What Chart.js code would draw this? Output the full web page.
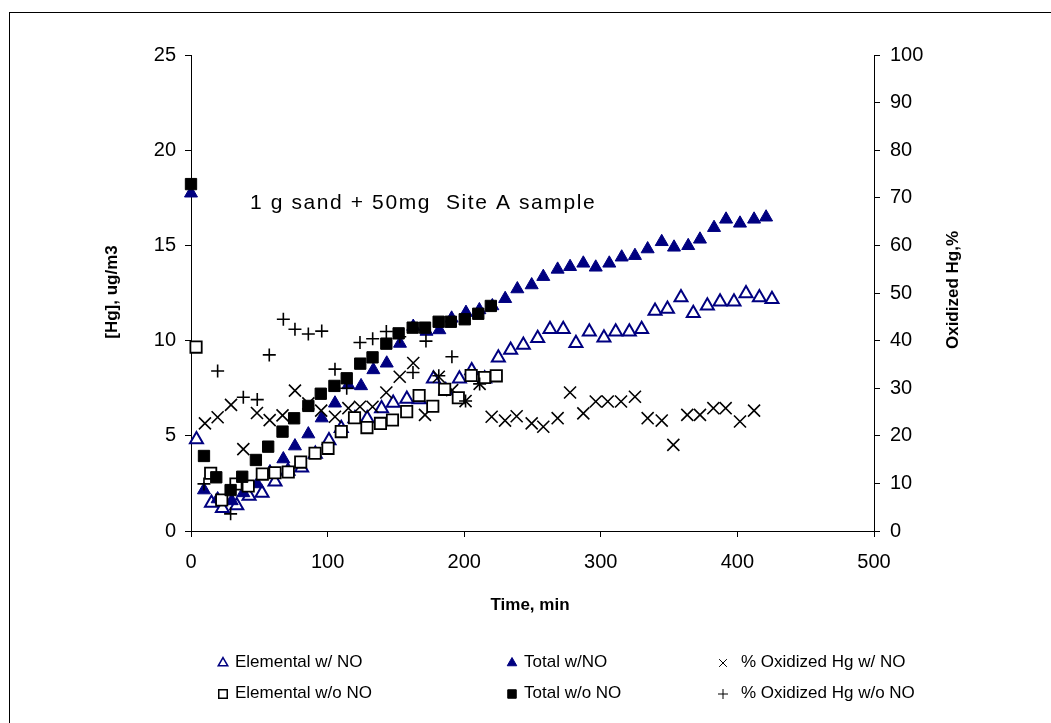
<!DOCTYPE html>
<html>
<head>
<meta charset="utf-8">
<script src="https://cdn.jsdelivr.net/npm/chart.js@4.4.1/dist/chart.umd.min.js"></script>
<style>
  html, body { margin: 0; padding: 0; background: #fff; }
  canvas { display: block; }
</style>
</head>
<body>
<canvas id="hgChart" width="1051" height="723"></canvas>
<script>
// Elemental w/ NO (hollow navy triangles)
const elemNoTime = [4, 15, 23, 33.5, 42.5, 52, 61.5, 71, 81, 91, 101, 110, 120, 129, 139.5, 148, 158, 167, 177.5, 186.5, 196.5, 205.5, 215, 225, 234, 243.3, 253.8, 262.8, 272.5, 281.8, 291.6, 302.3, 310.9, 320.9, 329.9, 339.7, 348.8, 358.7, 367.7, 378, 387.3, 397.5, 406.3, 416.1, 425.3];
const elemNoHg = [4.81, 1.47, 1.19, 1.34, 1.84, 2.0, 2.59, 3.15, 3.32, 4.04, 4.75, 5.39, 5.91, 5.91, 6.44, 6.72, 6.93, 6.9, 8.0, 7.38, 8.0, 8.43, 8.0, 9.1, 9.5, 9.77, 10.12, 10.59, 10.59, 9.86, 10.47, 10.15, 10.47, 10.47, 10.59, 11.55, 11.66, 12.26, 11.43, 11.83, 12.04, 12.04, 12.48, 12.27, 12.17];

// Total w/NO (filled navy triangles)
const totalNoTime = [0, 9.5, 19.5, 29.8, 38.3, 48.5, 57.8, 67.6, 76.1, 85.9, 95.7, 105.4, 115.2, 124.5, 133.5, 143.3, 153, 162.7, 172.4, 181.8, 190.8, 201.3, 211.1, 220.6, 230, 238.9, 249.4, 257.9, 268.4, 277.5, 287.2, 296.3, 306.2, 315.3, 325, 334.3, 344.6, 353.6, 364, 372.6, 382.9, 391.7, 401.9, 412.2, 421];
const totalNoHg = [17.74, 2.15, 1.68, 1.58, 2.0, 2.47, 3.1, 3.78, 4.46, 5.09, 5.93, 6.71, 7.67, 7.62, 8.46, 8.81, 9.85, 10.74, 10.48, 10.56, 11.17, 11.47, 11.61, 11.82, 12.2, 12.71, 12.92, 13.36, 13.74, 13.88, 14.06, 13.85, 14.06, 14.38, 14.46, 14.81, 15.19, 14.9, 14.98, 15.32, 15.93, 16.37, 16.16, 16.37, 16.48];

// % Oxidized Hg w/ NO (x marks, right axis)
const oxNoTime = [10.2, 19.5, 29.3, 38.3, 48.3, 57.6, 67, 76.1, 85.9, 95.3, 105.4, 115.2, 123.7, 132.9, 143, 152.8, 162.7, 171.3, 181.4, 191.2, 201, 211.3, 220.1, 229.9, 238.4, 249.4, 257.9, 268.4, 277.5, 287.2, 296.3, 305.1, 314.8, 325, 334.3, 344.6, 353.1, 363.3, 372.6, 382.4, 391.4, 401.9, 412.2];
const oxNoPct = [22.6, 23.9, 26.5, 17.2, 24.8, 23.3, 24.3, 29.5, 26.8, 25.3, 24.0, 25.8, 26.1, 26.1, 29.1, 32.4, 35.3, 24.4, 32.4, 29.6, 27.3, 30.9, 24.0, 23.2, 24.1, 22.6, 21.9, 23.7, 29.1, 24.7, 27.2, 27.2, 27.2, 28.2, 23.7, 23.2, 18.1, 24.4, 24.4, 25.8, 25.8, 23.0, 25.3];

// Elemental w/o NO (hollow black squares)
const elemWoTime = [3.7, 14.4, 22.5, 32.9, 41.9, 52.2, 61.5, 71.2, 80.3, 90.8, 100.3, 110, 119.7, 128.8, 138.7, 147.5, 157.9, 167, 177, 185.7, 195.7, 205.1, 214.9, 223.5];
const elemWoHg = [9.66, 3.03, 1.63, 2.47, 2.36, 2.99, 3.06, 3.1, 3.62, 4.08, 4.34, 5.22, 5.95, 5.43, 5.65, 5.83, 6.27, 7.12, 6.55, 7.44, 7.0, 8.17, 8.06, 8.15];

// Total w/o NO (filled black squares)
const totalWoTime = [0, 9.5, 18.5, 29, 37.5, 47.5, 56.5, 67, 75.5, 85.9, 95, 105, 114, 123.9, 132.9, 143, 152, 162.3, 171.3, 181.3, 190.2, 200.4, 210.3, 219.5];
const totalWoHg = [18.22, 3.94, 2.82, 2.15, 2.85, 3.73, 4.43, 5.22, 5.92, 6.57, 7.21, 7.62, 8.02, 8.79, 9.12, 9.84, 10.38, 10.68, 10.68, 10.99, 10.99, 11.12, 11.41, 11.82];

// % Oxidized Hg w/o NO (plus marks, right axis)
const oxWoTime = [9.5, 19.5, 29, 38.3, 48.5, 57.3, 67.6, 76.1, 85.9, 95.7, 105.4, 114, 123.7, 133, 143, 152.8, 162.5, 172, 181.4, 191, 201, 211.3];
const oxWoPct = [9.9, 33.6, 3.6, 28.1, 27.6, 37.0, 44.5, 42.4, 41.4, 42.0, 34.0, 30.0, 39.6, 40.4, 41.9, 40.8, 33.3, 39.9, 32.6, 36.6, 27.3, 30.9];

const seriesLabels = ['Elemental w/ NO', 'Total w/NO', '% Oxidized Hg w/ NO',
                      'Elemental w/o NO', 'Total w/o NO', '% Oxidized Hg w/o NO'];

const navy = '#000080';
const fontFamily = '"Liberation Sans", Arial, sans-serif';

Chart.defaults.font.family = fontFamily;
Chart.defaults.color = '#000';

const toPoints = (xs, ys) => xs.map((x, i) => ({ x: x, y: ys[i] }));

const datasets = [
  { label: seriesLabels[0], data: toPoints(elemNoTime, elemNoHg), yAxisID: 'y', order: 6,
    pointStyle: 'triangle', pointRadius: 7.5, backgroundColor: '#fff', borderColor: navy, borderWidth: 2 },
  { label: seriesLabels[1], data: toPoints(totalNoTime, totalNoHg), yAxisID: 'y', order: 5,
    pointStyle: 'triangle', pointRadius: 7.5, backgroundColor: navy, borderColor: navy, borderWidth: 1 },
  { label: seriesLabels[2], data: toPoints(oxNoTime, oxNoPct), yAxisID: 'y1', order: 4,
    pointStyle: 'crossRot', pointRadius: 8.5, backgroundColor: '#000', borderColor: '#000', borderWidth: 1.6 },
  { label: seriesLabels[3], data: toPoints(elemWoTime, elemWoHg), yAxisID: 'y', order: 3,
    pointStyle: 'rect', pointRadius: 8, backgroundColor: '#fff', borderColor: '#000', borderWidth: 1.8 },
  { label: seriesLabels[4], data: toPoints(totalWoTime, totalWoHg), yAxisID: 'y', order: 2,
    pointStyle: 'rect', pointRadius: 8, backgroundColor: '#000', borderColor: '#000', borderWidth: 1 },
  { label: seriesLabels[5], data: toPoints(oxWoTime, oxWoPct), yAxisID: 'y1', order: 1,
    pointStyle: 'cross', pointRadius: 6.5, backgroundColor: '#000', borderColor: '#000', borderWidth: 1.6 }
];
datasets.forEach((d) => {
  d.showLine = false;
  d.clip = false;
  d.pointHoverRadius = d.pointRadius;
});

// legend entries: column x for marker / text, row y
const legendCols = [223, 512, 723];
const legendTextX = [235, 524, 741];
const legendRows = [662, 693];
const legendMarkers = [
  { pointStyle: 'triangle', radius: 5.5, fill: '#fff', stroke: navy, borderWidth: 1.5 },
  { pointStyle: 'triangle', radius: 5.5, fill: navy, stroke: navy, borderWidth: 1 },
  { pointStyle: 'crossRot', radius: 5.5, fill: '#000', stroke: '#000', borderWidth: 1 },
  { pointStyle: 'rect', radius: 6, fill: '#fff', stroke: '#000', borderWidth: 1.5 },
  { pointStyle: 'rect', radius: 6, fill: '#000', stroke: '#000', borderWidth: 1 },
  { pointStyle: 'cross', radius: 5, fill: '#000', stroke: '#000', borderWidth: 1 }
];

const decorations = {
  id: 'decorations',
  beforeDraw(chart) {
    const ctx = chart.ctx;
    ctx.save();
    ctx.fillStyle = '#fff';
    ctx.fillRect(0, 0, chart.width, chart.height);
    ctx.strokeStyle = '#000';
    ctx.lineWidth = 1;
    ctx.strokeRect(9.5, 12.5, 1200, 900);
    ctx.restore();
  },
  afterDraw(chart) {
    const ctx = chart.ctx;
    ctx.save();
    ctx.fillStyle = '#000';
    ctx.textBaseline = 'middle';

    // axis titles
    ctx.font = 'bold 17px ' + fontFamily;
    ctx.textAlign = 'center';
    ctx.fillText('Time, min', 530, 605);

    ctx.save();
    ctx.translate(112, 292);
    ctx.rotate(-Math.PI / 2);
    ctx.fillText('[Hg], ug/m3', 0, 0);
    ctx.restore();

    ctx.save();
    ctx.translate(953, 290);
    ctx.rotate(-Math.PI / 2);
    ctx.fillText('Oxidized Hg,%', 0, 0);
    ctx.restore();

    // annotation, spread out a little like the original
    ctx.font = '21px ' + fontFamily;
    ctx.textAlign = 'left';
    if ('letterSpacing' in ctx) ctx.letterSpacing = '1.6px';
    ctx.fillText('1 g sand + 50mg  Site A sample', 250, 203);
    if ('letterSpacing' in ctx) ctx.letterSpacing = '0px';

    // legend
    ctx.font = '17px ' + fontFamily;
    seriesLabels.forEach((label, i) => {
      const col = i % 3;
      const row = Math.floor(i / 3);
      const m = legendMarkers[i];
      const y = legendRows[row];
      ctx.fillStyle = m.fill;
      ctx.strokeStyle = m.stroke;
      ctx.lineWidth = m.borderWidth;
      Chart.helpers.drawPoint(ctx, { pointStyle: m.pointStyle, radius: m.radius, rotation: 0, borderWidth: m.borderWidth },
        legendCols[col], y + 1);
      ctx.fillStyle = '#000';
      ctx.fillText(label, legendTextX[col], y);
    });
    ctx.restore();
  }
};

const tickFont = { size: 20 };

new Chart(document.getElementById('hgChart'), {
  type: 'scatter',
  data: { datasets: datasets },
  options: {
    responsive: false,
    animation: false,
    layout: { padding: { top: 55, left: 0, right: 0, bottom: 0 } },
    plugins: {
      legend: { display: false },
      tooltip: { enabled: false }
    },
    scales: {
      x: {
        type: 'linear', min: 0, max: 500,
        ticks: { stepSize: 100, font: tickFont, color: '#000', padding: 13 },
        grid: { drawOnChartArea: false, tickLength: 6, color: '#000' },
        border: { color: '#000' },
        afterFit(scale) { scale.height = 192; }
      },
      y: {
        position: 'left', min: 0, max: 25,
        ticks: { stepSize: 5, font: tickFont, color: '#000', padding: 9 },
        grid: { drawOnChartArea: false, tickLength: 6, color: '#000' },
        border: { color: '#000' },
        afterFit(scale) { scale.width = 191; }
      },
      y1: {
        position: 'right', min: 0, max: 100,
        ticks: { stepSize: 10, font: tickFont, color: '#000', padding: 10 },
        grid: { drawOnChartArea: false, tickLength: 6, color: '#000' },
        border: { color: '#000' },
        afterFit(scale) { scale.width = 177; }
      }
    }
  },
  plugins: [decorations]
});
</script>
</body>
</html>
